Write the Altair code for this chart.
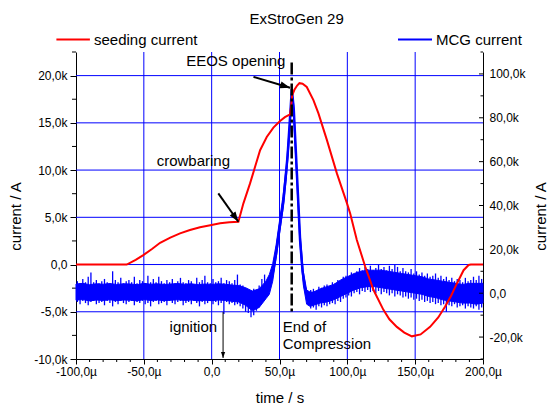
import altair as alt
import pandas as pd

FONT = "Liberation Sans"

# ---------------- data ----------------
# seeding current, left axis, kA
seed_t = [-100, -62.6, -56, -50.4, -44, -38, -30.5, -23.3, -16, -8.6, -1, 6.2, 13, 19.7,
          23.4, 28.3, 32, 35.7, 40.6, 45.5, 50.4, 54, 57.8, 58.6, 59.3, 61, 63, 64.7, 67,
          70.1, 75, 78.7, 84.9, 92.3, 99.7, 102.1, 107, 113.2, 119.3, 126.6, 131, 136.5,
          142, 147.6, 154, 161, 167, 172, 176.5, 180.8, 185.7, 189.4, 191, 200]
seed_v = [0, 0, 0.5, 1.0, 1.65, 2.3, 2.85, 3.3, 3.65, 3.94, 4.15, 4.36, 4.47, 4.53,
          6.48, 8.59, 10.35, 12.1, 13.5, 14.5, 15.2, 15.6, 15.9, 16.8, 17.9, 18.5, 18.95,
          19.2, 19.15, 18.8, 17.4, 16.0, 13.2, 9.65, 6.5, 5.4, 2.6, -0.23, -2.7, -4.8,
          -5.8, -6.6, -7.2, -7.6, -7.4, -6.6, -5.6, -4.47, -3.3, -2.0, -0.6, -0.05, 0, 0]

# MCG current: dense core of the noisy trace, right axis, kA
core_t = [-100, -95, -90, -85, -80, -75, -70, -65, -60, -55, -50, -45, -40, -35, -30, -25,
          -20, -15, -10, -5, 0, 5, 10, 15,
          20, 25, 30, 35, 40, 42.5, 45,
          47.5, 50, 52.5, 55, 57.5, 59, 60.5, 62.5, 65, 67.5, 70,
          72.5, 75, 80, 85, 90, 95, 100, 105, 110, 115, 120, 125, 130, 135, 140, 145,
          150, 155, 160, 165, 170, 175, 180, 185, 190, 195, 200]
core_hi = [4.2, 4.5, 3.9, 4.3, 4.1, 4.4, 4.0, 4.3, 4.2, 3.9, 4.5, 4.1, 4.3, 4.0, 4.2, 4.4,
           4.1, 4.3, 3.9, 4.2, 4.0, 4.3, 4.1, 3.7,
           3.5, 2.5, 1.0, 2.0, 5.5, 8.5, 13.5,
           22, 33, 44, 58, 78, 93, 86, 60, 29, 10, 1.5,
           0.5, 0.5, 2.0, 3.0, 4.0, 6.0, 7.5, 9.0, 10.0, 10.5, 10.5, 10.5, 10.0, 9.5, 9.0,
           8.5, 8.0, 7.5, 6.5, 6.0, 5.5, 5.0, 4.5, 4.0, 4.5, 4.5, 4.5]
core_lo = [-3.2, -2.9, -3.5, -3.1, -3.3, -3.0, -3.4, -3.1, -3.2, -3.5, -2.9, -3.3, -3.1, -3.4,
           -3.2, -3.0, -3.3, -3.1, -3.5, -3.2, -3.4, -3.1, -3.3, -3.7,
           -4.0, -5.5, -8.0, -6.5, -2.5, -0.5, 5.5,
           16, 27, 38, 52, 72, 88, 80, 54, 23, 4, -5.0,
           -6.0, -5.5, -4.5, -4.0, -3.0, -1.5, 0.0, 1.5, 2.5, 3.0, 3.0, 2.5, 2.0, 1.5, 1.0,
           0.5, 0.0, -0.5, -1.5, -2.0, -3.0, -3.5, -4.0, -4.5, -4.5, -5.0, -4.5]

# MCG current: noise spikes (extent of the trace), right axis, kA
spk_t = [-99, -97, -95, -93, -91, -89, -87, -85, -83, -81,
         -79, -77, -75, -73, -71, -69, -67, -65, -63, -61,
         -59, -57, -55, -53, -51, -49, -47, -45, -43, -41,
         -39, -37, -35, -33, -31, -29, -27, -25, -23, -21,
         -19, -17, -15, -13, -11, -9, -7, -5, -3, -1,
         1, 3, 5, 7, 9, 11, 13, 15, 17, 19,
         21, 23, 25, 27, 29, 31, 33, 35, 37, 39,
         73, 75, 77, 79, 81, 83, 85, 87, 89, 91,
         93, 95, 97, 99, 101, 103, 105, 107, 109, 111,
         113, 115, 117, 119, 121, 123, 125, 127, 129, 131,
         133, 135, 137, 139, 141, 143, 145, 147, 149, 151,
         153, 155, 157, 159, 161, 163, 165, 167, 169, 171,
         173, 175, 177, 179, 181, 183, 185, 187, 189, 191,
         193, 195, 197, 199]
spk_hi = [5.5, 4.5, 6.5, 5.0, 7.5, 9.5, 5.0, 6.0, 4.5, 5.5,
          6.5, 5.0, 4.5, 10.0, 6.0, 5.0, 7.0, 4.5, 5.5, 6.0,
          5.0, 7.5, 4.5, 6.0, 5.5, 4.5, 8.0, 5.0, 6.5, 5.0,
          7.5, 5.5, 4.5, 6.0, 5.0, 6.5, 4.5, 5.5, 7.0, 5.0,
          4.5, 6.0, 5.5, 4.0, 7.0, 5.0, 6.0, 8.0, 5.0, 4.5,
          6.5, 5.0, 5.5, 7.0, 4.5, 6.0, 5.5, 4.5, 6.0, 8.5,
          4.0, 3.5, 2.5, 1.5, 0.5, 2.0, 1.0, 3.5, 6.5, 8.5,
          1.5, 2.0, 1.0, 3.0, 2.5, 3.5, 4.0, 3.0, 5.0, 4.5,
          6.0, 5.5, 7.5, 8.0, 7.0, 9.5, 8.5, 10.0, 11.5, 10.5,
          12.0, 11.0, 12.5, 10.5, 11.5, 13.0, 11.0, 12.0, 10.5, 12.5,
          11.0, 13.0, 12.0, 10.0, 11.5, 10.0, 9.5, 11.0, 9.0, 10.0,
          8.5, 9.5, 8.0, 9.0, 7.5, 8.0, 9.0, 7.0, 8.0, 6.5,
          7.5, 6.0, 7.0, 5.5, 6.5, 6.0, 5.0, 7.0, 5.5, 6.0,
          7.5, 6.0, 8.0, 6.5]
spk_lo = [-4.0, -5.0, -3.5, -4.5, -5.5, -4.0, -3.5, -5.0, -4.5, -4.0,
          -5.5, -3.5, -4.5, -6.0, -4.0, -5.0, -3.5, -4.5, -5.0, -4.0,
          -3.5, -5.5, -4.0, -4.5, -3.5, -5.0, -4.5, -6.0, -4.0, -3.5,
          -5.0, -4.5, -4.0, -5.5, -3.5, -4.5, -5.0, -4.0, -3.5, -5.5,
          -4.5, -4.0, -5.0, -3.5, -4.5, -6.0, -4.0, -5.0, -4.5, -3.5,
          -5.0, -4.0, -5.5, -4.5, -9.5, -4.0, -5.0, -4.5, -5.5, -5.0,
          -6.0, -7.0, -8.5, -9.0, -11.0, -10.0, -8.0, -6.5, -4.0, -2.0,
          -7.0, -6.5, -7.5, -6.0, -6.5, -5.5, -6.0, -5.0, -4.5, -5.0,
          -3.5, -4.0, -2.5, -2.0, -1.0, -1.5, 0.0, 0.5, -0.5, 1.0,
          0.5, 1.5, 0.5, 1.0, 0.0, 1.0, -0.5, 0.5, 0.0, -1.0,
          0.0, -1.5, -0.5, -1.0, -2.0, -1.5, -2.5, -2.0, -3.0, -2.5,
          -3.5, -3.0, -4.0, -3.5, -4.5, -4.0, -5.0, -4.5, -5.5, -5.0,
          -8.5, -5.5, -6.0, -5.0, -6.5, -6.0, -5.5, -7.0, -6.0, -6.5,
          -7.0, -6.0, -7.5, -6.5]

# MCG current main pulse (right axis, kA)
peak_t = [40, 42.5, 45, 47.5, 49.2, 52.9, 56, 59.1, 60.5, 62.8, 65.2, 67, 68.9, 71, 73]
peak_v = [0, 3, 9, 18, 26, 42, 63, 93, 84, 55, 24, 10, 2, -3, -3]

# ticks / grid
x_ticks = [-100, -50, 0, 50, 100, 150, 200]
x_minor = [-90, -80, -70, -60, -40, -30, -20, -10, 10, 20, 30, 40, 60, 70, 80, 90,
           110, 120, 130, 140, 160, 170, 180, 190]
yl_ticks = [-10, -5, 0, 5, 10, 15, 20]
yl_minor = [-7.5, -2.5, 2.5, 7.5, 12.5, 17.5, 22.5]
yr_ticks = [-20, 0, 20, 40, 60, 80, 100]
yr_minor = [-30, -10, 10, 30, 50, 70, 90, 110]
grid_x = [-50, 0, 50, 100, 150]
grid_y = [-5, 0, 5, 10, 15, 20]

# annotations (data coordinates, left axis)
arrow_t = [30.8, 4.9]
arrow_v = [19.87, 7.53]
arrow_t2 = [57.8, 19.7]
arrow_v2 = [18.71, 4.53]
ign_t, ign_v, ign_v2 = [8.4], [-5.03], [-9.89]
head_t = [57.8, 19.7, 8.4]
head_v = [18.71, 4.53, -9.89]
head_a = [16.7, 54.8, 90]
head_s = [100, 100, 36]
eoc_t, eoc_v, eoc_v2 = [59.0], [21.4], [-5.03]
lab_c_text = ["EEOS opening", "crowbaring", "ignition"]
lab_c_t = [17.8, -13.5, -13.5]
lab_c_v = [21.0, 10.42, -7.17]
lab_l_text = ["End of", "Compression"]
lab_l_t = [52.4, 52.4]
lab_l_v = [-7.17, -8.9]

# ---------------- chart ----------------
W, H = 407, 307
xs = alt.Scale(domain=[-100, 200], nice=False, zero=False)
yls = alt.Scale(domain=[-10, 22.5], nice=False, zero=False)
yrs = alt.Scale(domain=[-30, 110], nice=False, zero=False)

kexpr = ("datum.value == 0 ? '0,0' : (datum.value < 0 ? '-' : '') + "
         "replace(format(abs(datum.value), '.1f'), '.', ',') + 'k'")
uexpr = ("datum.value == 0 ? '0,0' : (datum.value < 0 ? '-' : '') + "
         "replace(format(abs(datum.value), '.1f'), '.', ',') + 'µ'")

common = dict(grid=False, domainColor='black', domainWidth=1, tickColor='black',
              labelFont=FONT, labelFontSize=12, labelColor='black',
              titleFont=FONT, titleFontSize=15, titleFontWeight='normal', titleColor='black',
              labelFlush=False, labelOverlap=False)

x_axis = alt.Axis(values=x_ticks, labelExpr=uexpr, title='time / s', tickSize=5,
                  labelPadding=2, titleBaseline='alphabetic', titleY=43, **common)
yl_axis = alt.Axis(orient='left', values=yl_ticks, labelExpr=kexpr, title='current / A',
                   tickSize=6, labelPadding=3, titleX=-61, titleY=164, titleAngle=270,
                   titleAlign='center', titleBaseline='middle', **common)
yr_axis = alt.Axis(orient='right', values=yr_ticks, labelExpr=kexpr, title='current / A',
                   ticks=False, tickSize=0, labelPadding=6, titleX=57, titleY=164,
                   titleAngle=270, titleAlign='center', titleBaseline='middle', **common)

X = alt.X('t:Q', scale=xs, axis=x_axis)
YL = alt.Y('v:Q', scale=yls, axis=yl_axis)
YL0 = alt.Y('v:Q', scale=yls, axis=None)
YR = alt.Y('v:Q', scale=yrs, axis=yr_axis)

BLUE = '#0000ff'
RED = '#ff0000'

# group 1: grid + left/bottom minor ticks (left scale, with left axis)
g_x = alt.Chart(pd.DataFrame({'t': grid_x})).mark_rule(color=BLUE, strokeWidth=1).encode(x=X)
g_y = alt.Chart(pd.DataFrame({'v': grid_y})).mark_rule(color=BLUE, strokeWidth=1).encode(y=YL)
m_l = alt.Chart(pd.DataFrame({'v': yl_minor})).mark_rule(color='black', strokeWidth=1).encode(
    y=YL, x=alt.value(-4), x2=alt.value(0))
m_b = alt.Chart(pd.DataFrame({'t': x_minor})).mark_rule(color='black', strokeWidth=1).encode(
    x=X, y=alt.value(H), y2=alt.value(H + 3))
G1 = alt.layer(g_x, g_y, m_l, m_b)

# group 2: MCG current (right scale)
band = alt.Chart(pd.DataFrame({'t': core_t, 'lo': core_lo, 'hi': core_hi})).mark_area(
    color=BLUE, stroke=BLUE, strokeWidth=1, opacity=1).encode(
    x=X, y=alt.Y('lo:Q', scale=yrs, axis=yr_axis), y2='hi:Q')
spikes = alt.Chart(pd.DataFrame({'t': spk_t, 'lo': spk_lo, 'hi': spk_hi})).mark_rule(
    color=BLUE, strokeWidth=1.3).encode(
    x=X, y=alt.Y('lo:Q', scale=yrs, axis=yr_axis), y2='hi:Q')
pk = alt.Chart(pd.DataFrame({'t': peak_t, 'v': peak_v})).mark_line(
    color=BLUE, strokeWidth=2.5).encode(x=X, y=YR)
r_maj = alt.Chart(pd.DataFrame({'v': yr_ticks})).mark_rule(color='black', strokeWidth=1).encode(
    y=YR, x=alt.value(W - 4), x2=alt.value(W))
r_min = alt.Chart(pd.DataFrame({'v': yr_minor})).mark_rule(color='black', strokeWidth=1).encode(
    y=YR, x=alt.value(W - 2.5), x2=alt.value(W))
G2 = alt.layer(band, spikes, pk, r_maj, r_min)

# group 3: seeding current + annotations (left scale, no axis)
seed = alt.Chart(pd.DataFrame({'t': seed_t, 'v': seed_v})).mark_line(
    color=RED, strokeWidth=2).encode(x=X, y=YL0)
eoc = alt.Chart(pd.DataFrame({'t': eoc_t, 'v': eoc_v, 'v2': eoc_v2})).mark_rule(
    color='black', strokeWidth=2.5, strokeDash=[12, 3, 3, 3]).encode(x=X, y=YL0, y2='v2:Q')
arr = alt.Chart(pd.DataFrame({'t': arrow_t, 'v': arrow_v, 't2': arrow_t2, 'v2': arrow_v2})).mark_rule(
    color='black', strokeWidth=2).encode(x=X, y=YL0, x2='t2:Q', y2='v2:Q')
ign = alt.Chart(pd.DataFrame({'t': ign_t, 'v': ign_v, 'v2': ign_v2})).mark_rule(
    color='black', strokeWidth=1).encode(x=X, y=YL0, y2='v2:Q')
heads = alt.Chart(pd.DataFrame({'t': head_t, 'v': head_v, 'a': head_a, 's': head_s})).mark_point(
    shape='M0,0L-2,-0.7L-2,0.7Z', filled=True, color='black', opacity=1, strokeWidth=0).encode(
    x=X, y=YL0, angle=alt.Angle('a:Q', scale=None), size=alt.Size('s:Q', scale=None, legend=None))
txt_c = alt.Chart(pd.DataFrame({'t': lab_c_t, 'v': lab_c_v, 'label': lab_c_text})).mark_text(
    font=FONT, fontSize=15, color='black', align='center', baseline='alphabetic').encode(
    x=X, y=YL0, text='label:N')
txt_l = alt.Chart(pd.DataFrame({'t': lab_l_t, 'v': lab_l_v, 'label': lab_l_text})).mark_text(
    font=FONT, fontSize=15, color='black', align='left', baseline='alphabetic').encode(
    x=X, y=YL0, text='label:N')

one = pd.DataFrame({'d': [0]})
title = alt.Chart(one).mark_text(text='ExStroGen 29', font=FONT, fontSize=15, color='black',
                                 align='center', baseline='alphabetic').encode(
    x=alt.value(220.7), y=alt.value(-27.6))
leg_r = alt.Chart(one).mark_rule(color=RED, strokeWidth=2).encode(
    x=alt.value(-19.6), x2=alt.value(13.9), y=alt.value(-12.6))
leg_b = alt.Chart(one).mark_rule(color=BLUE, strokeWidth=2).encode(
    x=alt.value(322), x2=alt.value(356), y=alt.value(-12.6))
leg_rt = alt.Chart(one).mark_text(text='seeding current', font=FONT, fontSize=15, color='black',
                                  align='left', baseline='alphabetic').encode(
    x=alt.value(18), y=alt.value(-6.7))
leg_bt = alt.Chart(one).mark_text(text='MCG current', font=FONT, fontSize=15, color='black',
                                  align='left', baseline='alphabetic').encode(
    x=alt.value(360), y=alt.value(-6.7))
G3 = alt.layer(seed, eoc, arr, ign, heads, txt_c, txt_l, title, leg_r, leg_b, leg_rt, leg_bt)

chart = alt.layer(G1, G2, G3).resolve_scale(y='independent').properties(
    width=W, height=H, autosize='none',
    padding={'left': 76, 'top': 52, 'right': 64, 'bottom': 46},
    background='white'
).configure_view(stroke=None)

chart.save("out.html", embed_options={"renderer": "svg", "actions": False})
